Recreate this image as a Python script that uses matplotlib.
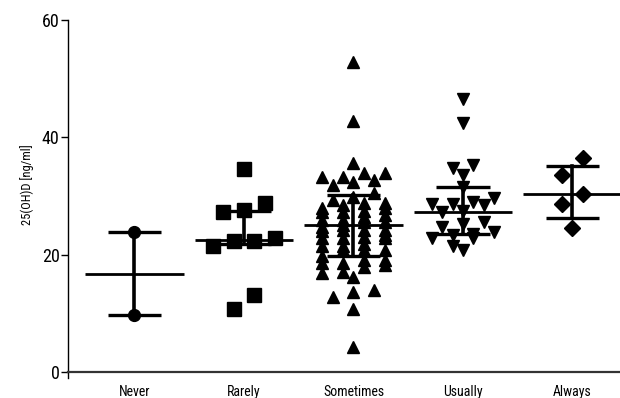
import matplotlib
matplotlib.use("Agg")
import matplotlib.pyplot as plt
import numpy as np
from matplotlib import font_manager

# grupos de frequência e valores individuais de 25(OH)D (ng/ml)
categorias = ["Never", "Rarely", "Sometimes", "Usually", "Always"]

never = [23.9, 9.7]
rarely = [34.6, 28.8, 27.7, 27.3, 22.8, 22.4, 22.4, 21.4, 13.1, 10.8]
sometimes = [52.9, 42.7, 35.6, 33.9, 33.9, 33.3, 33.3, 32.7, 32.4, 31.9,
             30.5, 29.9, 29.3, 28.8, 28.8, 28.5, 28.0, 27.9, 27.4, 27.3,
             27.3, 26.8, 26.5, 25.9, 25.9, 25.6, 25.5, 25.1, 24.8, 24.2,
             24.2, 24.2, 24.0, 23.4, 23.0, 22.8, 22.8, 22.8, 21.9, 21.4,
             21.4, 20.8, 20.8, 20.8, 19.7, 19.1, 19.1, 18.5, 18.5, 18.2,
             17.9, 17.1, 16.8, 16.2, 14.0, 13.7, 12.8, 10.8, 4.3]
usually = [46.5, 42.4, 35.3, 34.7, 33.6, 31.6, 29.6, 28.9, 28.7, 28.7,
           28.5, 27.4, 27.2, 25.6, 25.3, 24.8, 23.9, 23.6, 23.4, 22.9,
           22.8, 21.4, 20.8]
always = [36.4, 33.6, 30.3, 28.6, 24.5]

# mediana e intervalo interquartil de cada grupo
medianas = [16.7, 22.5, 25.1, 27.3, 30.3]
q1 = [9.7, 21.8, 19.7, 23.6, 26.3]
q3 = [23.9, 27.4, 30.2, 31.6, 35.1]

grupos = [never, rarely, sometimes, usually, always]
marcadores = ["o", "s", "^", "v", "D"]
tamanhos = [8.5, 9.6, 9.0, 9.0, 8.4]
alturas = [2.2, 2.4, 1.45, 1.45, 2.9]   # altura de cada linha do espalhamento

# procura uma fonte estreita; senão fica com a Liberation Sans
familia, largura = "Liberation Sans", "normal"
preferidas = ["Liberation Sans Narrow", "Roboto Condensed", "Open Sans Condensed",
              "Noto Sans", "Roboto", "Open Sans", "DejaVu Sans"]
estreitas = [f for f in font_manager.fontManager.ttflist
             if f.stretch in ("condensed", "semi-condensed", "extra-condensed")
             and f.weight in (400, "normal", "regular") and f.style == "normal"]
for nome in preferidas:
    achadas = [f for f in estreitas if f.name == nome]
    if achadas:
        familia, largura = nome, achadas[0].stretch
        break
    if nome == "Liberation Sans Narrow" and any(f.name == nome for f in font_manager.fontManager.ttflist):
        familia = nome
        break
plt.rcParams["font.family"] = [familia, "DejaVu Sans"]
plt.rcParams["font.stretch"] = largura


def espalhar(valores, altura, passo=0.19, maximo=4):
    """Agrupa valores próximos em linhas e distribui cada linha lado a lado."""
    v = np.asarray(valores, dtype=float)
    ordem = np.argsort(-v)
    desloc = np.zeros(len(v))
    linha = []
    for j in list(ordem) + [None]:
        if j is not None and linha and v[linha[0]] - v[j] < altura and len(linha) < maximo:
            linha.append(j)
            continue
        if linha:
            n = len(linha)
            idx = sorted(linha, key=lambda k: v[k])
            desloc[idx] = (np.arange(n) - (n - 1) / 2) * passo
        linha = [j] if j is not None else []
    return desloc


fig = plt.figure(figsize=(6.2, 3.98), dpi=100)
ax = fig.add_axes([0.1097, 0.0505, 0.8903, 0.8993])

for i, (valores, m, ms, h) in enumerate(zip(grupos, marcadores, tamanhos, alturas)):
    x = i + espalhar(valores, h)
    ax.plot(x, valores, linestyle="none", marker=m, markersize=ms,
            color="black", zorder=3)
    # barra vertical do IQR, traços nos quartis e linha da mediana
    ax.plot([i, i], [q1[i], q3[i]], color="black", lw=2.6, zorder=4)
    ax.hlines([q1[i], q3[i]], i - 0.245, i + 0.245, color="black", lw=2.4, zorder=4)
    ax.hlines(medianas[i], i - 0.45, i + 0.45, color="black", lw=2.0, zorder=4)

ax.set_xlim(-0.607, 4.434)
ax.set_ylim(-1, 60)
ax.set_yticks([0, 20, 40, 60])
ax.set_xticks(range(len(categorias)))
ax.set_xticklabels(categorias, fontsize=9.5)
ax.tick_params(axis="x", length=0, pad=9)
ax.tick_params(axis="y", length=5, width=1, labelsize=13, pad=1)
ax.set_ylabel("25(OH)D [ng/ml]", fontsize=9)
ax.yaxis.set_label_coords(-0.062, 0.54)

ax.spines["top"].set_visible(False)
ax.spines["right"].set_visible(False)
ax.spines["bottom"].set_position(("data", 0))
ax.spines["bottom"].set_linewidth(1.6)
ax.spines["left"].set_linewidth(1.0)
ax.spines["bottom"].set_color("#333333")

fig.savefig("out.png", dpi=100)
